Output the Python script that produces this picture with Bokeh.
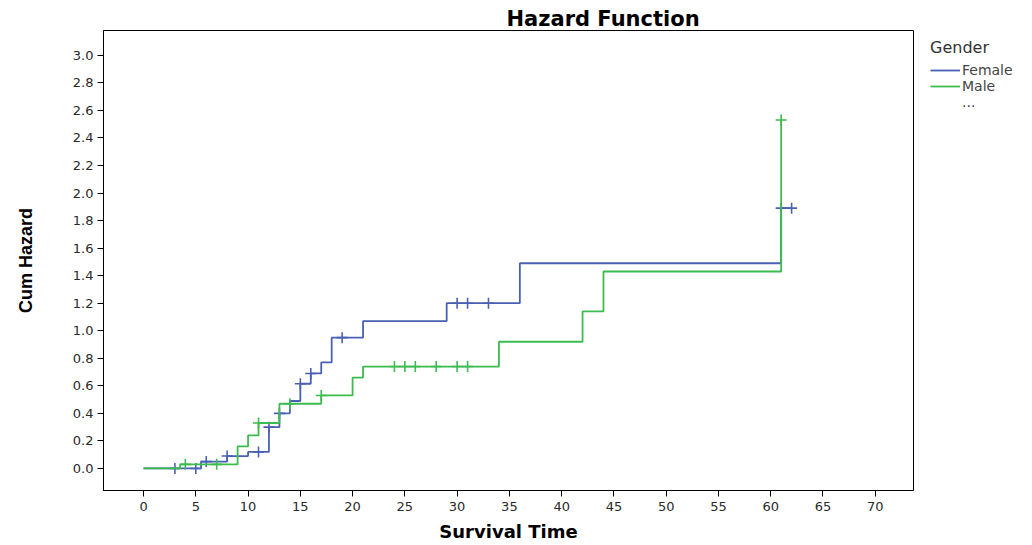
from bokeh.plotting import figure
from bokeh.models import Range1d, Legend, LegendItem, FixedTicker, PrintfTickFormatter, Title
from bokeh.embed import file_html
from bokeh.resources import INLINE

# ---- data ----
female_t = [0, 5.5, 8, 10, 12, 13, 14, 15, 16, 17, 18, 21, 29, 36, 61, 62]
female_h = [0.0, 0.05, 0.09, 0.12, 0.30, 0.40, 0.49, 0.615, 0.69, 0.77, 0.95, 1.07, 1.20, 1.49, 1.89, 1.89]
female_cens_t = [3, 5, 6, 8, 11, 12, 13, 15, 16, 19, 30, 31, 33, 61, 62]
female_cens_h = [0.0, 0.0, 0.05, 0.09, 0.12, 0.30, 0.40, 0.615, 0.69, 0.95, 1.20, 1.20, 1.20, 1.89, 1.89]

male_t = [0, 3.5, 9, 10, 11, 13, 17, 20, 21, 34, 42, 44, 61]
male_h = [0.0, 0.03, 0.16, 0.24, 0.33, 0.47, 0.53, 0.66, 0.74, 0.92, 1.14, 1.43, 2.53]
male_cens_t = [4, 7, 11, 14, 17, 24, 25, 26, 28, 30, 31, 61]
male_cens_h = [0.03, 0.03, 0.33, 0.47, 0.53, 0.74, 0.74, 0.74, 0.74, 0.74, 0.74, 2.53]

x_ticks = [0, 5, 10, 15, 20, 25, 30, 35, 40, 45, 50, 55, 60, 65, 70]
y_ticks = [0.0, 0.2, 0.4, 0.6, 0.8, 1.0, 1.2, 1.4, 1.6, 1.8, 2.0, 2.2, 2.4, 2.6, 2.8, 3.0]
legend_labels = ["Female", "Male", "..."]

BLUE = "#4a60b4"
GREEN = "#3cbb4f"

p = figure(frame_width=810, frame_height=460,
           x_range=Range1d(-3.83, 73.66), y_range=Range1d(-0.16, 3.18),
           output_backend="svg", toolbar_location=None,
           min_border_left=103, min_border_right=117, min_border_top=30, min_border_bottom=0)
p.title = None
p.background_fill_color = "white"
p.border_fill_color = "white"
p.outline_line_color = "black"
p.outline_line_width = 1
p.xgrid.visible = False
p.ygrid.visible = False

for ax in (p.xaxis[0], p.yaxis[0]):
    ax.axis_line_color = "black"
    ax.major_tick_line_color = "black"
    ax.major_tick_out = 6
    ax.major_tick_in = 0
    ax.minor_tick_line_color = None
    ax.major_label_text_font = "DejaVu Sans"
    ax.major_label_text_font_size = "13px"
    ax.major_label_text_color = "#2a2a2a"

p.xaxis.major_label_standoff = 5
p.yaxis.major_label_standoff = 4
p.xaxis.ticker = FixedTicker(ticks=x_ticks)
p.yaxis.ticker = FixedTicker(ticks=y_ticks)
p.yaxis.formatter = PrintfTickFormatter(format="%.1f")

p.xaxis.axis_label = "Survival Time"
p.xaxis.axis_label_text_font = "DejaVu Sans"
p.xaxis.axis_label_text_font_style = "bold"
p.xaxis.axis_label_text_font_size = "18px"
p.xaxis.axis_label_text_color = "black"
p.xaxis.axis_label_standoff = 7

p.yaxis.axis_label = "Cum Hazard"
p.yaxis.axis_label_text_font = "Liberation Sans"
p.yaxis.axis_label_text_font_style = "bold"
p.yaxis.axis_label_text_font_size = "18px"
p.yaxis.axis_label_text_color = "black"
p.yaxis.axis_label_standoff = 34

rf = p.step(female_t, female_h, mode="after", line_color=BLUE, line_width=1.8)
p.scatter(female_cens_t, female_cens_h, marker="cross", size=11, line_color=BLUE, line_width=1.6)
rm = p.step(male_t, male_h, mode="after", line_color=GREEN, line_width=1.8)
p.scatter(male_cens_t, male_cens_h, marker="cross", size=11, line_color=GREEN, line_width=1.6)
rd = p.line([], [], line_alpha=0)

legend = Legend(items=[LegendItem(label=legend_labels[0], renderers=[rf]),
                       LegendItem(label=legend_labels[1], renderers=[rm]),
                       LegendItem(label=legend_labels[2], renderers=[rd])],
                location=(17, 380), margin=0, padding=9,
                title="Gender", title_text_font="DejaVu Sans", title_text_font_size="16px",
                title_text_font_style="normal", title_text_color="#333333", title_standoff=5,
                label_text_font="DejaVu Sans", label_text_font_size="14px",
                label_height=14, glyph_height=14, glyph_width=30, spacing=0, label_standoff=2,
                border_line_color=None, background_fill_alpha=0)
p.add_layout(legend, "right")

title = Title(text="Hazard Function", align="left", offset=403, standoff=0,
              text_font="DejaVu Sans", text_font_style="bold", text_font_size="21px",
              text_color="black")
p.add_layout(title, "above")

open("out.html", "w").write(file_html(p, INLINE))
